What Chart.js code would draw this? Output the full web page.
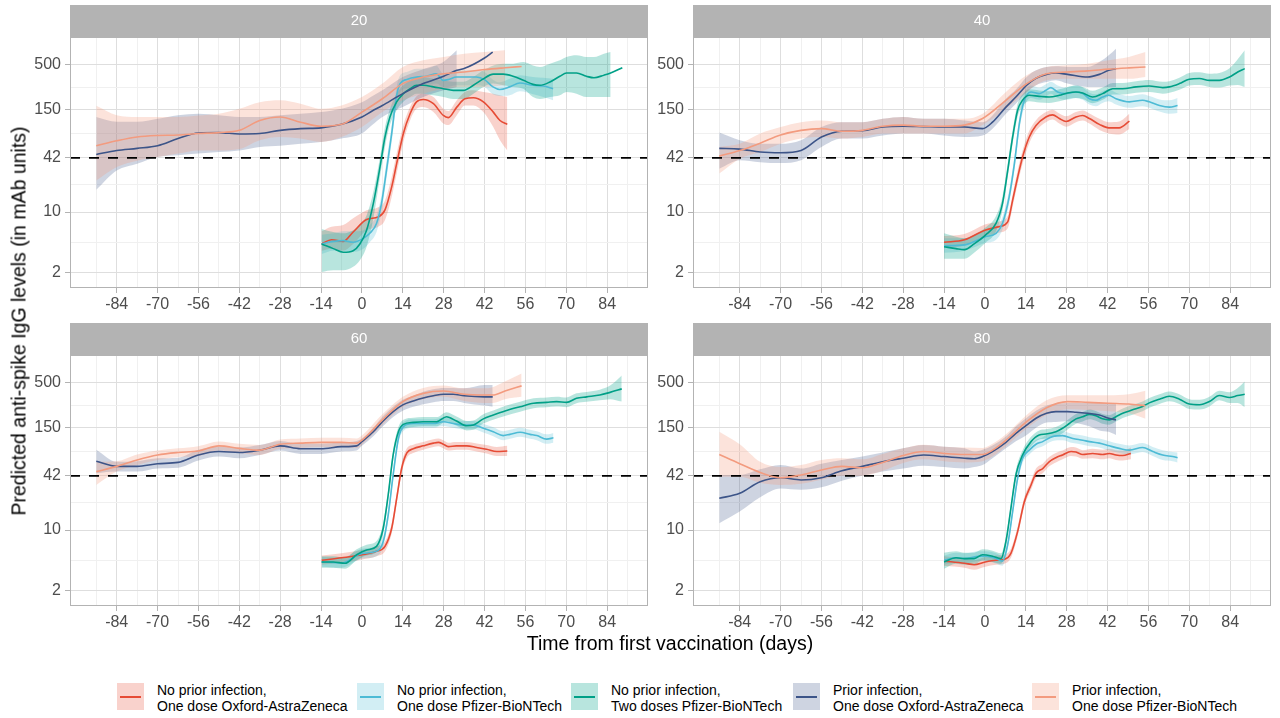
<!DOCTYPE html>
<html>
<head>
<meta charset="utf-8">
<script src="https://cdn.jsdelivr.net/npm/chart.js@4.4.0/dist/chart.umd.min.js"></script>
<style>
  body { margin: 0; width: 1280px; height: 718px; background: #fff; position: relative; overflow: hidden;
         font-family: "Liberation Sans", Arial, sans-serif; }
  canvas { position: absolute; }
  .title { position: absolute; font-size: 19.5px; color: #000; white-space: nowrap; transform: translate(-50%, -50%); }
  .ytitle { transform: translate(-50%, -50%) rotate(-90deg); }
  .key { position: absolute; top: 683px; width: 27px; height: 27px; }
  .key span { position: absolute; left: 3px; right: 3px; top: 13px; height: 1.6px; }
  .ltext { position: absolute; top: 682px; font-size: 14px; line-height: 16px; color: #000; white-space: nowrap; }
</style>
</head>
<body>
<canvas id="p20" width="660" height="318" style="left:0;top:0"></canvas>
<canvas id="p40" width="640" height="318" style="left:640px;top:0"></canvas>
<canvas id="p60" width="660" height="318" style="left:0;top:318px"></canvas>
<canvas id="p80" width="640" height="318" style="left:640px;top:318px"></canvas>
<div class="title ytitle" style="left:19px;top:321px">Predicted anti-spike IgG levels (in mAb units)</div>
<div class="title" style="left:670px;top:643px">Time from first vaccination (days)</div>
<div id="legend"></div>
<script>
// tick values
const xTicks = [-91, -84, -77, -70, -63, -56, -49, -42, -35, -28, -21, -14, -7, 0, 7, 14, 21, 28, 35, 42, 49, 56, 63, 70, 77, 84, 91];
const xLabelled = [-84, -70, -56, -42, -28, -14, 0, 14, 28, 42, 56, 70, 84];
const yTicks = [2, 4.47, 10, 20.5, 42, 79.4, 150, 274, 500];
const yLabelled = [2, 10, 42, 150, 500];
const threshold = 42;
const panelLabels = ['20', '40', '60', '80'];

const seriesNames = [
  ['No prior infection,', 'One dose Oxford-AstraZeneca'],
  ['No prior infection,', 'One dose Pfizer-BioNTech'],
  ['No prior infection,', 'Two doses Pfizer-BioNTech'],
  ['Prior infection,', 'One dose Oxford-AstraZeneca'],
  ['Prior infection,', 'One dose Pfizer-BioNTech']
];
const lineColors = ['#E64B35', '#4DBBD5', '#00A087', '#3C5488', '#F39B7F'];
const bandColors = ['rgba(230,75,53,0.25)', 'rgba(77,187,213,0.25)', 'rgba(0,160,135,0.28)', 'rgba(60,84,136,0.25)', 'rgba(243,155,127,0.28)'];

// rows: [day, estimate, lower, upper]
// ---- age 20 ----
const p20_noAZ = [
  [-13.8, 4.3, 3.6, 6.0], [-10.4, 4.8, 3.8, 6.8], [-6.4, 4.6, 3.6, 7.1], [-3.0, 5.9, 4.3, 8.5],
  [1.6, 8.2, 6.2, 10.5], [5.6, 8.8, 6.8, 11.4], [7.9, 10.6, 8.1, 13.6], [10.2, 19.5, 14.9, 25.3],
  [11.9, 36, 27.7, 47], [14.2, 80, 64, 100], [16.5, 135, 113, 161], [18.7, 185, 154, 214],
  [21.0, 197, 161, 230], [24.5, 176, 141, 210], [27.9, 129, 104, 154], [29.6, 122, 100, 145],
  [32.5, 161, 130, 193], [35.3, 201, 168, 240], [38.2, 206, 168, 251], [41.6, 185, 141, 240],
  [45.0, 141, 95, 230], [47.3, 113, 67, 220], [49.8, 102, 51, 210]
];
const p20_noPf1 = [
  [-13.8, 4.3, 3.3, 5.5], [-9.8, 4.6, 3.6, 5.7], [-6.4, 4.7, 3.6, 6.0], [-3.0, 4.5, 3.5, 6.0],
  [0.5, 5.0, 3.8, 6.2], [2.7, 5.7, 4.5, 7.1], [5.0, 7.4, 5.9, 9.2], [6.7, 12.5, 10, 15.6],
  [8.4, 30, 24, 38], [10.2, 80, 64, 100], [11.9, 220, 176, 275], [13.1, 300, 239, 373],
  [15.4, 335, 263, 408], [18.7, 357, 275, 445], [22.1, 364, 287, 445], [25.5, 390, 300, 480],
  [27.8, 327, 275, 390], [29.5, 333, 275, 397], [32.4, 357, 287, 426], [35.8, 357, 287, 426],
  [39.2, 357, 287, 426], [42.0, 333, 275, 408], [44.9, 275, 226, 333], [47.2, 257, 216, 310],
  [50.6, 275, 220, 340], [54.1, 305, 245, 375], [58.6, 287, 226, 357], [62.1, 281, 210, 350],
  [65.5, 262, 193, 340]
];
const p20_noPf2 = [
  [-13.8, 4.3, 2.05, 6.4], [-9.8, 3.8, 2.14, 5.9], [-6.4, 3.45, 2.14, 5.7], [-3.0, 3.6, 2.35, 6.2],
  [-0.7, 4.3, 2.8, 7.1], [1.6, 6.2, 4.0, 9.2], [3.9, 12.5, 8.4, 17], [6.2, 33, 25.3, 43],
  [7.9, 73, 56, 95], [9.6, 124, 100, 154], [11.9, 185, 148, 230], [14.2, 230, 185, 287],
  [16.5, 262, 210, 327], [18.7, 287, 230, 357], [21.0, 287, 230, 357], [24.5, 275, 220, 340],
  [27.9, 262, 210, 327], [31.3, 251, 200, 315], [34.8, 251, 200, 315], [38.2, 287, 230, 357],
  [41.6, 340, 275, 426], [45.0, 385, 300, 485], [48.4, 385, 287, 509], [51.8, 364, 275, 509],
  [55.3, 327, 262, 530], [58.6, 294, 210, 485], [61.0, 287, 200, 466], [64.4, 313, 210, 509],
  [67.8, 364, 220, 556], [70.1, 397, 240, 607], [73.5, 397, 230, 635], [76.9, 364, 210, 607],
  [79.5, 350, 210, 607], [82.9, 375, 210, 663], [85.2, 397, 210, 692], [89.2, 456, null, null]
];
const p20_prAZ = [
  [-91, 46, 18, 124], [-84, 51, 30, 109], [-77, 54, 36, 109], [-70, 58, 43, 118],
  [-63, 70, 45, 130], [-56, 81, 47, 135], [-49, 82, 49, 130], [-42, 79, 51, 124],
  [-35, 80, 56, 124], [-28, 87, 58, 130], [-21, 91, 61, 135], [-14, 93, 64, 141],
  [-7, 102, 70, 154], [0, 124, 80, 183], [3.5, 145, 100, 215], [7, 168, 124, 251],
  [14, 230, 161, 357], [21, 300, 210, 440], [28, 364, 251, 536], [32.5, 426, 275, 724],
  [35, 446, null, null], [42, 590, null, null], [44.8, 692, null, null]
];
const p20_prPf = [
  [-91, 58, 23, 167], [-84, 66, 33, 130], [-77, 73, 39, 124], [-70, 76, 43, 124],
  [-63, 77, 47, 124], [-56, 80, 51, 129], [-49, 82, 51, 135], [-42, 87, 53, 154],
  [-35, 113, 67, 183], [-28, 124, 73, 193], [-21, 108, 70, 176], [-14, 97, 64, 154],
  [-7, 102, 73, 168], [0, 141, 95, 210], [7, 201, 141, 300], [14, 300, 193, 466],
  [21, 357, 230, 556], [28, 390, 262, 607], [35, 408, 275, 663], [42, 435, 275, 692],
  [49, 456, 287, 724], [54.7, 472, null, null]
];

// ---- age 40 ----
const p40_noAZ = [
  [-14, 4.5, 3.9, 5.3], [-7, 4.8, 4.1, 5.6], [0, 6.2, 5.3, 7.2], [4.9, 6.8, 5.8, 7.8],
  [7.8, 7.7, 6.5, 9.0], [9.5, 13.7, 11.5, 16], [11.2, 25, 21, 30], [12.9, 43, 36, 51],
  [15.2, 73, 62, 86], [17.5, 99, 86, 114], [20.9, 124, 108, 141], [23.2, 131, 116, 150],
  [25.5, 119, 104, 136], [27.8, 110, 96, 126], [31.2, 124, 108, 141], [33.5, 129, 113, 147],
  [35.8, 119, 104, 136], [39.2, 102, 88, 118], [42.4, 93, 80, 108], [46.0, 93, 78, 110],
  [49.5, 111, 90, 135]
];
const p40_noPf1 = [
  [-14, 4.1, 3.4, 5.0], [-7, 4.2, 3.6, 5.0], [0.1, 5.2, 4.4, 6.1], [3.8, 5.7, 4.8, 6.7],
  [6.0, 7.4, 6.3, 8.8], [8.3, 14.9, 12.5, 17.8], [10.1, 36, 30, 43], [11.8, 104, 87, 124],
  [13.5, 193, 161, 230], [15.8, 240, 205, 285], [18.6, 230, 195, 270], [20.9, 251, 215, 295],
  [22.6, 270, 230, 315], [24.9, 240, 205, 285], [27.8, 230, 195, 270], [31.2, 240, 205, 285],
  [33.5, 230, 195, 270], [35.8, 201, 172, 236], [38.0, 193, 165, 226], [40.3, 210, 180, 245],
  [42.4, 220, 188, 258], [44.9, 201, 172, 236], [49.5, 185, 158, 216], [54.0, 193, 165, 226],
  [56.3, 185, 158, 216], [59.8, 168, 143, 197], [63.2, 161, 135, 193], [66.0, 168, 138, 205]
];
const p40_noPf2 = [
  [-14, 4.0, 2.9, 5.7], [-9.9, 3.8, 2.9, 5.2], [-7, 3.7, 2.9, 5.0], [-3.7, 4.3, 3.4, 5.5],
  [0.1, 5.4, 4.4, 6.6], [3.8, 7.4, 6.0, 9.0], [6.0, 12.5, 10.4, 15], [7.8, 30, 25, 36],
  [9.5, 73, 61, 87], [11.2, 148, 125, 176], [12.9, 193, 165, 226], [15.2, 220, 188, 258],
  [18.6, 214, 182, 250], [22.0, 210, 180, 245], [25.5, 220, 188, 258], [28.3, 234, 200, 275],
  [31.2, 240, 205, 285], [33.5, 234, 200, 275], [36.9, 210, 178, 248], [40.3, 230, 195, 270],
  [43.8, 262, 225, 305], [47.2, 262, 225, 305], [51.8, 275, 236, 320], [56.3, 281, 240, 330],
  [60.9, 270, 230, 315], [63.2, 275, 236, 320], [66.6, 300, 255, 350], [70.0, 337, 285, 397],
  [73.5, 343, 290, 405], [76.9, 327, 275, 390], [80.3, 327, 270, 397], [83.8, 357, 285, 450],
  [86.6, 408, 290, 570], [89.0, 446, 275, 724]
];
const p40_prAZ = [
  [-91, 54, 31.5, 82], [-84, 53, 39.4, 67], [-77, 49, 37.5, 61], [-70, 48, 36.6, 61],
  [-63, 51, 39.4, 67], [-56, 73, 56, 95], [-49, 85, 70, 108], [-42, 86, 70, 108],
  [-35, 95, 76, 118], [-28, 97, 80, 124], [-21, 96, 80, 118], [-14, 95, 76, 118],
  [-7, 95, 73, 113], [-0.8, 91, 76, 108], [2.6, 108, 91, 129], [7.2, 161, 135, 201],
  [10.6, 210, 176, 256], [14.3, 287, 240, 357], [17.5, 345, 287, 426], [21.1, 383, 312, 466],
  [24.3, 397, 327, 475], [28.3, 383, 300, 466], [35.2, 357, 275, 466], [39.2, 383, 275, 530],
  [42.4, 426, 275, 635], [44.9, 446, 275, 757]
];
const p40_prPf = [
  [-91, 44, 27.7, 56], [-84, 51, 41, 61], [-77, 62, 49, 80], [-70, 77, 61, 95],
  [-63, 87, 70, 108], [-56, 91, 73, 113], [-49, 85, 70, 108], [-42, 87, 73, 108],
  [-35, 97, 80, 118], [-28, 100, 80, 124], [-21, 97, 80, 118], [-14, 97, 80, 118],
  [-7, 100, 80, 118], [-0.8, 119, 100, 135], [7.2, 193, 154, 240], [14.3, 300, 240, 373],
  [21.1, 390, 327, 466], [28.3, 408, 340, 487], [35.2, 420, 340, 509], [42.4, 440, 340, 556],
  [49.3, 455, 340, 607], [55.0, 466, 357, 692]
];

// ---- age 60 ----
const p60_noAZ = [
  [-13.8, 4.5, 4.0, 5.1], [-7.0, 4.8, 4.2, 5.4], [0.1, 5.2, 4.6, 5.9], [5.0, 5.7, 5.0, 6.5],
  [7.9, 6.5, 5.7, 7.4], [10.2, 10.5, 9.2, 12.0], [11.9, 23, 20, 26], [13.6, 51, 45, 58],
  [15.4, 77, 68, 87], [17.6, 86, 77, 96], [21.0, 93, 84, 103], [24.5, 100, 90, 111],
  [26.2, 102, 92, 113], [27.9, 97, 87, 108], [29.6, 91, 82, 101], [32.4, 93, 84, 103],
  [35.9, 93, 84, 103], [39.3, 89, 80, 99], [42.7, 85, 76, 95], [46.2, 80, 71, 90],
  [49.8, 81, 71, 93]
];
const p60_noPf1 = [
  [-13.8, 4.3, 3.8, 4.9], [-7.0, 4.2, 3.7, 4.8], [0.1, 5.4, 4.7, 6.1], [5.0, 5.7, 5.0, 6.5],
  [7.3, 7.4, 6.5, 8.4], [9.0, 14.9, 13, 17], [10.7, 43, 38, 49], [12.5, 113, 100, 128],
  [14.2, 155, 138, 174], [17.6, 168, 150, 188], [21.0, 168, 150, 188], [24.5, 168, 150, 188],
  [27.9, 176, 157, 197], [31.3, 168, 150, 188], [34.7, 161, 144, 180], [38.2, 161, 144, 180],
  [41.6, 148, 132, 166], [45.0, 135, 120, 152], [48.4, 122, 108, 137], [50.7, 126, 112, 142],
  [54.2, 133, 118, 150], [57.6, 126, 112, 142], [59.9, 122, 108, 137], [63.3, 111, 98, 126],
  [65.6, 115, 101, 131]
];
const p60_noPf2 = [
  [-13.8, 4.3, 3.7, 5.0], [-9.8, 4.3, 3.7, 5.0], [-5.8, 4.15, 3.6, 4.8], [-1.8, 5.2, 4.5, 6.0],
  [1.6, 5.9, 5.1, 6.8], [5.0, 6.5, 5.6, 7.5], [7.3, 10.5, 9.1, 12.1], [9.0, 25.3, 22, 29],
  [10.7, 73, 64, 83], [12.5, 135, 119, 153], [14.2, 164, 145, 186], [17.6, 173, 153, 196],
  [21.0, 176, 156, 199], [25.6, 176, 156, 199], [29.0, 201, 178, 227], [32.4, 179, 158, 202],
  [35.9, 158, 140, 179], [38.2, 161, 142, 182], [41.6, 190, 168, 215], [45.0, 210, 186, 237],
  [49.0, 234, 205, 267], [54.2, 262, 230, 298], [58.8, 287, 252, 327], [63.3, 294, 258, 335],
  [66.7, 300, 263, 342], [70.1, 294, 258, 335], [73.5, 327, 287, 373], [77.0, 340, 298, 388],
  [81.5, 357, 310, 411], [85.0, 383, 320, 458], [89.0, 420, 300, 600]
];
const p60_prAZ = [
  [-91, 62, 45, 84], [-84, 54, 47, 61], [-77, 54, 47, 62], [-70, 58, 51, 67],
  [-63, 60, 52, 68], [-56, 73, 63, 84], [-49, 80, 70, 91], [-42, 78, 67, 89],
  [-35, 83, 73, 95], [-28, 93, 82, 106], [-21, 86, 75, 98], [-14, 86, 75, 98],
  [-7, 91, 80, 102], [-1.8, 93, 82, 106], [0, 104, 93, 113], [3.9, 135, 120, 150],
  [7, 176, 154, 201], [10.7, 230, 200, 262], [14, 275, 236, 315], [17.6, 305, 262, 350],
  [21, 330, 280, 390], [24.5, 350, 295, 415], [28, 364, 305, 430], [31.3, 364, 305, 430],
  [35, 350, 290, 426], [42, 340, 270, 466], [44.8, 340, 262, 466]
];
const p60_prPf = [
  [-91, 47, 33, 61], [-84, 54, 47, 62], [-77, 64, 56, 74], [-70, 73, 64, 82],
  [-63, 78, 69, 87], [-56, 81, 71, 92], [-49, 93, 82, 104], [-42, 87, 77, 98],
  [-35, 83, 73, 95], [-28, 97, 86, 110], [-21, 100, 88, 113], [-14, 102, 90, 115],
  [-7, 102, 90, 115], [-1.8, 100, 88, 113], [0, 108, 96, 122], [7, 185, 161, 214],
  [14, 300, 260, 340], [21, 373, 320, 430], [28, 397, 340, 460], [35, 364, 305, 426],
  [42, 357, 290, 426], [44.8, 357, 290, 440], [49, 397, 320, 510], [54.7, 455, 340, 630]
];

// ---- age 80 ----
const p80_noAZ = [
  [-14, 4.4, 3.9, 5.0], [-7, 4.15, 3.7, 4.7], [-3.7, 4.0, 3.5, 4.5], [0.1, 4.3, 3.8, 4.9],
  [3.8, 4.5, 4.0, 5.1], [6.6, 4.6, 4.1, 5.2], [8.9, 5.4, 4.8, 6.1], [11.2, 9.6, 8.5, 10.9],
  [13.5, 21.2, 18.8, 24], [15.8, 33, 29, 37], [17.5, 45, 40, 51], [19.8, 51, 45, 58],
  [22.0, 61, 54, 69], [24.3, 68, 60, 77], [26.6, 73, 65, 82], [29.5, 80, 71, 90],
  [31.2, 79, 70, 89], [33.5, 74, 66, 83], [36.9, 76, 67, 86], [40.3, 74, 65, 84],
  [42.6, 76, 67, 86], [44.9, 73, 64, 83], [47.2, 72, 63, 82], [50.0, 76, 65, 89]
];
const p80_noPf1 = [
  [-14, 4.5, 4.0, 5.1], [-9.9, 4.8, 4.2, 5.5], [-7, 4.7, 4.1, 5.4], [-2.0, 5.0, 4.4, 5.7],
  [0.4, 5.0, 4.4, 5.7], [3.8, 4.7, 4.1, 5.4], [6.0, 4.4, 3.9, 5.0], [7.8, 6.8, 6.0, 7.7],
  [9.5, 16.3, 14.4, 18.5], [11.2, 39.4, 35, 45], [12.9, 67, 59, 76], [15.2, 83, 74, 94],
  [17.5, 97, 86, 109], [19.8, 104, 92, 117], [23.2, 119, 106, 134], [26.6, 122, 108, 137],
  [30.1, 113, 100, 127], [33.5, 108, 96, 122], [35.8, 104, 92, 117], [39.2, 100, 89, 113],
  [42.6, 93, 82, 105], [46.0, 87, 77, 98], [49.5, 83, 74, 94], [54.0, 89, 79, 100],
  [57.5, 80, 71, 90], [60.9, 73, 64, 83], [64.3, 70, 62, 79], [66.0, 68, 60, 78]
];
const p80_noPf2 = [
  [-14, 4.3, 3.6, 5.5], [-9.9, 4.8, 4.1, 5.7], [-7, 4.7, 4.0, 5.5], [-3.7, 4.7, 4.0, 5.5],
  [-0.8, 5.2, 4.5, 6.0], [2.6, 5.0, 4.3, 5.8], [5.5, 4.7, 4.1, 5.4], [7.2, 7.4, 6.5, 8.4],
  [8.9, 17.8, 15.7, 20.2], [10.6, 43, 38, 49], [12.9, 73, 64, 83], [15.8, 104, 92, 118],
  [18.6, 124, 110, 140], [20.9, 127, 112, 144], [24.3, 135, 119, 153], [26.6, 148, 130, 168],
  [28.9, 168, 148, 191], [31.2, 190, 167, 216], [33.5, 201, 177, 228], [35.8, 214, 188, 243],
  [38.0, 206, 181, 234], [40.3, 190, 167, 216], [42.6, 185, 163, 210], [44.9, 201, 177, 228],
  [47.2, 220, 194, 250], [50.6, 241, 212, 274], [54.0, 264, 232, 300], [56.3, 290, 255, 330],
  [59.8, 320, 282, 364], [63.2, 345, 303, 392], [66.6, 320, 282, 364], [70.0, 281, 247, 320],
  [73.5, 276, 243, 314], [76.9, 300, 264, 341], [80.3, 352, 310, 400], [83.8, 334, 290, 385],
  [86.6, 352, 290, 430], [89.0, 364, 260, 510]
];
const p80_prAZ = [
  [-91, 23.2, 12, 43], [-84, 26.5, 16.3, 43], [-77, 36, 23.8, 50], [-70, 40, 30, 56],
  [-63, 37.7, 29, 51], [-56, 40, 31, 58], [-49, 48, 37, 64], [-42, 54, 42, 70],
  [-35, 61, 47, 78], [-28, 67, 51, 87], [-21, 73, 55, 95], [-14, 70, 53, 91],
  [-7, 67, 51, 87], [-3.7, 66, 53, 80], [-0.8, 70, 56, 84], [2.6, 80, 67, 94],
  [7.2, 102, 87, 119], [10.6, 129, 105, 155], [14.3, 161, 124, 196], [17.5, 193, 150, 235],
  [21.1, 220, 172, 270], [24.3, 230, 175, 285], [28.3, 230, 178, 290], [31.2, 226, 170, 290],
  [35.2, 220, 158, 290], [39.2, 210, 140, 290], [42.4, 193, 135, 290], [44.9, 185, 124, 290]
];
const p80_prPf = [
  [-91, 74, 41, 135], [-84, 58, 41, 97], [-77, 46, 35, 61], [-70, 40, 33, 53],
  [-63, 43, 34, 56], [-56, 49, 38, 64], [-49, 54, 42, 67], [-42, 52, 42, 65],
  [-35, 60, 48, 75], [-28, 72, 59, 87], [-21, 80, 65, 96], [-14, 76, 62, 91],
  [-7, 74, 60, 89], [-0.8, 74, 62, 88], [2.6, 83, 70, 98], [7.2, 108, 92, 126],
  [14.3, 176, 147, 210], [21.1, 255, 210, 310], [28.3, 300, 245, 355], [35.2, 294, 240, 355],
  [42.4, 287, 232, 355], [49.3, 281, 220, 365], [55.0, 269, 190, 400]
];

const panels = [
  { id: 'p20', label: panelLabels[0], series: [p20_noAZ, p20_noPf1, p20_noPf2, p20_prAZ, p20_prPf], yw: 70, pr: 12 },
  { id: 'p40', label: panelLabels[1], series: [p40_noAZ, p40_noPf1, p40_noPf2, p40_prAZ, p40_prPf], yw: 53, pr: 9 },
  { id: 'p60', label: panelLabels[2], series: [p60_noAZ, p60_noPf1, p60_noPf2, p60_prAZ, p60_prPf], yw: 70, pr: 12 },
  { id: 'p80', label: panelLabels[3], series: [p80_noAZ, p80_noPf1, p80_noPf2, p80_prAZ, p80_prPf], yw: 53, pr: 9 }
];

Chart.defaults.font.family = '"Liberation Sans", Arial, sans-serif';

// grey strip on top + panel border, like the facet look
const facetDeco = {
  id: 'facetDeco',
  beforeDraw(chart, args, opts) {
    const a = chart.chartArea, ctx = chart.ctx;
    ctx.save();
    ctx.fillStyle = '#B3B3B3';
    ctx.fillRect(a.left, a.top - 32, a.right - a.left, 32);
    ctx.fillStyle = '#fff';
    ctx.font = '15px "Liberation Sans", Arial, sans-serif';
    ctx.textAlign = 'center';
    ctx.textBaseline = 'middle';
    ctx.fillText(opts.label, (a.left + a.right) / 2, a.top - 16);
    ctx.restore();
  },
  afterDraw(chart) {
    const a = chart.chartArea, ctx = chart.ctx;
    ctx.save();
    ctx.strokeStyle = '#B3B3B3';
    ctx.lineWidth = 1;
    ctx.strokeRect(a.left + 0.5, a.top + 0.5, a.right - a.left - 1, a.bottom - a.top - 1);
    ctx.restore();
  }
};

function buildDatasets(seriesList) {
  const bands = [], lines = [];
  seriesList.forEach((rows, i) => {
    const withBand = rows.filter(r => r[2] != null);
    const common = { pointRadius: 0, borderWidth: 0, borderColor: 'rgba(0,0,0,0)', cubicInterpolationMode: 'monotone', order: 20 - i };
    bands.push({ ...common, data: withBand.map(r => ({ x: r[0], y: r[3] })), fill: false });
    bands.push({ ...common, data: withBand.map(r => ({ x: r[0], y: r[2] })), fill: '-1', backgroundColor: bandColors[i] });
    lines.push({
      data: rows.map(r => ({ x: r[0], y: r[1] })),
      borderColor: lineColors[i], borderWidth: 1.6, pointRadius: 0, fill: false,
      cubicInterpolationMode: 'monotone', order: 5 - i
    });
  });
  const dashed = {
    data: [{ x: -100, y: threshold }, { x: 98, y: threshold }],
    borderColor: '#000', borderWidth: 1.8, borderDash: [10, 9], pointRadius: 0, fill: false, order: 10
  };
  return [...bands, dashed, ...lines];
}

function isMajorX(v) { return xLabelled.includes(v); }
function isMajorY(v) { return yLabelled.includes(v); }

panels.forEach(p => {
  new Chart(document.getElementById(p.id), {
    type: 'line',
    data: { datasets: buildDatasets(p.series) },
    plugins: [facetDeco],
    options: {
      responsive: false,
      animation: false,
      events: [],
      layout: { padding: { top: 37, right: p.pr, bottom: 0, left: 0 } },
      plugins: { legend: { display: false }, tooltip: { enabled: false }, facetDeco: { label: p.label } },
      scales: {
        x: {
          type: 'linear', min: -100, max: 98,
          afterBuildTicks: s => { s.ticks = xTicks.map(v => ({ value: v })); },
          afterFit: s => { s.height = 30; s.paddingLeft = 0; s.paddingRight = 0; },
          ticks: {
            autoSkip: false, maxRotation: 0, padding: 2, color: '#4D4D4D', font: { size: 16 },
            callback: v => isMajorX(v) ? String(v) : ''
          },
          grid: {
            color: c => isMajorX(c.tick.value) ? '#DEDEDE' : '#F0F0F0',
            tickColor: c => isMajorX(c.tick.value) ? '#B3B3B3' : 'rgba(0,0,0,0)',
            tickLength: 5
          },
          border: { display: false }
        },
        y: {
          type: 'logarithmic', min: 1.34, max: 1030,
          afterBuildTicks: s => { s.ticks = yTicks.map(v => ({ value: v })); },
          afterFit: s => { s.width = p.yw; s.paddingTop = 0; s.paddingBottom = 0; },
          ticks: {
            autoSkip: false, padding: 4, color: '#4D4D4D', font: { size: 16 },
            callback: v => isMajorY(v) ? String(v) : ''
          },
          grid: {
            color: c => isMajorY(c.tick.value) ? '#DEDEDE' : '#F0F0F0',
            tickColor: c => isMajorY(c.tick.value) ? '#B3B3B3' : 'rgba(0,0,0,0)',
            tickLength: 5
          },
          border: { display: false }
        }
      }
    }
  });
});

// legend at the bottom
const keyLeft = [117, 357, 571, 793, 1032];
const legend = document.getElementById('legend');
seriesNames.forEach((name, i) => {
  const key = document.createElement('div');
  key.className = 'key';
  key.style.left = keyLeft[i] + 'px';
  key.style.background = bandColors[i];
  const ln = document.createElement('span');
  ln.style.background = lineColors[i];
  key.appendChild(ln);
  legend.appendChild(key);
  const txt = document.createElement('div');
  txt.className = 'ltext';
  txt.style.left = (keyLeft[i] + 40) + 'px';
  txt.innerHTML = name[0] + '<br>' + name[1];
  legend.appendChild(txt);
});
</script>
</body>
</html>
